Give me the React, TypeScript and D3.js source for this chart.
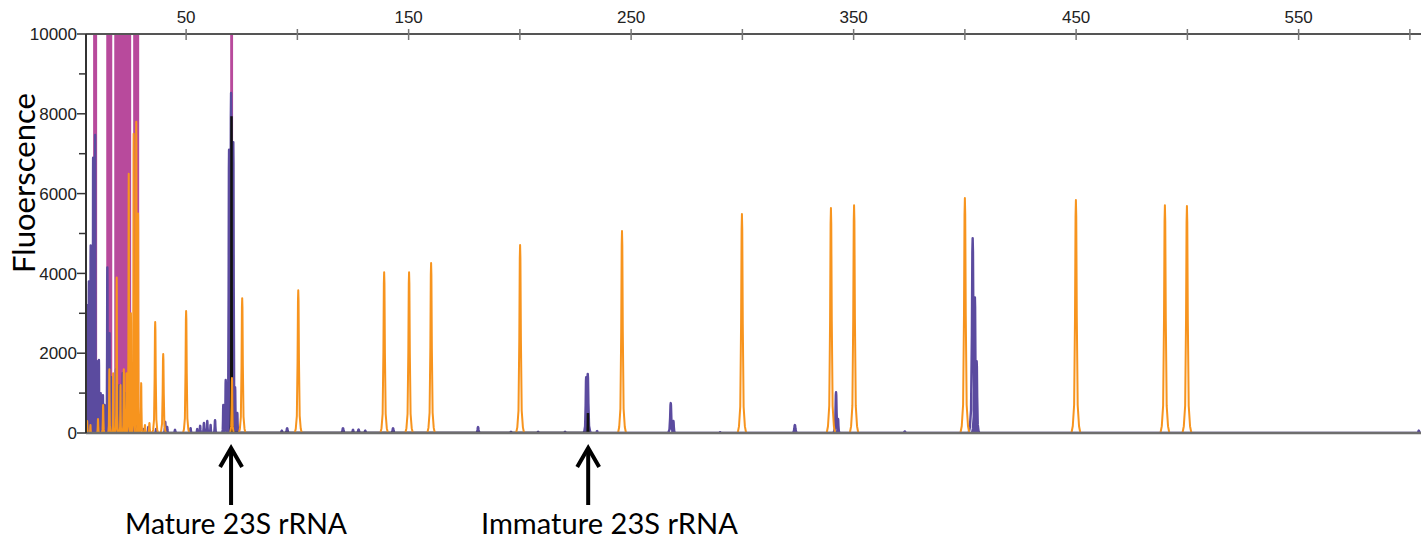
import React from "react";
import * as d3 from "d3";

// size standard (orange) peaks: [size, fluorescence, half base width]
const orangePeaks: [number, number, number][] = [
  [5.5, 300, 0.6], [7.0, 200, 0.5], [10.4, 350, 0.6], [12.7, 700, 0.7],
  [15.5, 1600, 0.6], [17.2, 1500, 0.5], [18.8, 3900, 0.6], [20.5, 1200, 0.5],
  [22.0, 1600, 0.6], [23.2, 1500, 0.5], [24.2, 6500, 0.6], [25.2, 3000, 0.5],
  [26.4, 7500, 0.6], [27.6, 7800, 0.7], [28.4, 5500, 0.6], [29.8, 1250, 0.7],
  [31.5, 200, 0.8], [33.5, 250, 0.8],
  [36.1, 2780, 1.3], [39.7, 1980, 1.3], [50.0, 3060, 1.4], [70.6, 1380, 0.9],
  [75.2, 3380, 1.5], [100.4, 3580, 1.6], [139.0, 4030, 1.7], [150.2, 4030, 1.7],
  [160.1, 4260, 1.7], [200.1, 4710, 1.8], [245.9, 5060, 1.8], [299.8, 5490, 1.9],
  [339.8, 5640, 1.9], [350.2, 5710, 1.9], [400.0, 5890, 2.0], [449.9, 5840, 2.0],
  [489.9, 5710, 2.0], [499.8, 5690, 2.0],
];

// sample (purple) peaks
const purplePeaks: [number, number, number][] = [
  [5.0, 1900, 0.5], [5.6, 3200, 0.5], [6.3, 3800, 0.5], [7.1, 4700, 0.6],
  [8.2, 6900, 0.4], [9.1, 7470, 0.6], [9.9, 1800, 0.5], [10.8, 1830, 0.5],
  [11.6, 1000, 0.4], [12.6, 950, 0.5], [13.3, 700, 0.4], [14.6, 4150, 0.6],
  [15.6, 2500, 0.4], [16.4, 1400, 0.5], [18.5, 1600, 0.5], [20.0, 1200, 0.5],
  [21.5, 1500, 0.5], [22.8, 1000, 0.5], [24.4, 1500, 0.6], [25.6, 900, 0.5],
  [27.0, 600, 0.5], [28.3, 300, 0.5], [31.0, 100, 0.6], [33.0, 150, 0.6],
  [36.5, 100, 0.6], [40.6, 280, 0.8], [41.5, 150, 0.6], [45.0, 80, 0.8],
  [52.0, 120, 0.8], [55.0, 100, 0.7], [56.3, 180, 0.7], [58.0, 250, 0.8],
  [59.5, 300, 0.7], [61.0, 200, 0.6], [63.0, 320, 0.8], [66.7, 700, 0.6],
  [67.8, 1330, 0.8], [69.3, 7100, 1.0], [70.2, 8520, 1.3], [71.2, 7290, 1.0],
  [72.0, 1150, 0.9], [73.0, 500, 0.7], [93.0, 60, 1.0], [95.4, 120, 1.2],
  [120.5, 120, 1.3], [125.0, 80, 1.0], [127.5, 90, 1.2], [130.5, 60, 1.0],
  [143.0, 120, 1.2], [181.2, 150, 1.2], [196.0, 30, 1.5], [208.2, 30, 1.0],
  [220.3, 30, 1.0], [229.8, 1400, 1.2], [230.5, 1480, 1.5], [234.7, 50, 0.8],
  [267.8, 750, 1.4], [269.0, 300, 1.0], [290.0, 20, 1.0], [323.6, 200, 1.4],
  [342.1, 1020, 1.3], [343.0, 350, 0.9], [373.0, 40, 1.5], [403.5, 4880, 1.8],
  [404.5, 3400, 1.3], [405.3, 1800, 1.2], [604.0, 60, 1.0],
];

// black channel peaks
const blackPeaks: [number, number, number][] = [
  [70.4, 7940, 0.35], [230.6, 500, 0.35],
];

// saturated magenta ranges (size units)
const magentaStart = [8.2, 14.1, 17.7, 26.2, 69.8];
const magentaEnd = [10.0, 16.8, 25.3, 28.9, 71.1];

const sizeTicks = [50, 100, 150, 200, 250, 300, 350, 400, 450, 500, 550, 600];
const yMajor = [0, 2000, 4000, 6000, 8000, 10000];
const yMinor = [1000, 3000, 5000, 7000, 9000];

const arrows = [
  { size: 70.2, label: "Mature 23S rRNA", tx: 125, tw: 222 },
  { size: 230.7, label: "Immature 23S rRNA", tx: 481, tw: 257 },
];

const W = 1421;
const H = 543;
const m = { left: 86, right: 1421, top: 34, bottom: 433 };

// peak outline template
const tOff = [-1, -0.7, -0.4, -0.2, -0.08, 0, 0.08, 0.2, 0.4, 0.7, 1];
const tRel = [0, 0.03, 0.12, 0.5, 0.93, 1, 0.93, 0.5, 0.12, 0.03, 0];

const trace = (peaks: [number, number, number][]) => {
  const pts: [number, number][] = [];
  [...peaks].sort((a, b) => a[0] - b[0]).forEach(([c, h, w]) => {
    tOff.forEach((o, i) => pts.push([c + o * w, h * tRel[i]]));
  });
  return pts;
};

export default function App() {
  const x = d3.scaleLinear().domain([5, 605]).range([m.left, m.right]);
  const y = d3.scaleLinear().domain([0, 10000]).range([m.bottom, m.top]);

  const line = d3
    .line<[number, number]>()
    .x((d) => x(d[0]))
    .y((d) => y(d[1]));

  const area = d3
    .area<number>()
    .x((d) => x(d))
    .y0(y(0))
    .y1(y(12000));

  const font = "'Liberation Sans', Arial, sans-serif";
  const labelFont = "Lato, 'Open Sans', sans-serif";

  return (
    <svg
      width={W}
      height={H}
      style={{ position: "absolute", left: 0, top: 0, background: "#fff" }}
    >
      <defs>
        <clipPath id="plot">
          <rect x={m.left} y={m.top} width={m.right - m.left} height={m.bottom - m.top + 1} />
        </clipPath>
      </defs>

      <g clipPath="url(#plot)">
        {magentaStart.map((s, i) => (
          <path key={i} d={area([s, magentaEnd[i]]) || ""} fill="#b84a9c" />
        ))}
        <path d={line(trace(purplePeaks)) || ""} fill="none" stroke="#5b4b9f" strokeWidth={2.4} strokeLinejoin="round" />
        <path d={line(trace(blackPeaks)) || ""} fill="none" stroke="#111" strokeWidth={2.4} />
        <path d={line(trace(orangePeaks)) || ""} fill="none" stroke="#f7941e" strokeWidth={2} strokeLinejoin="round" />
      </g>

      {/* bottom baseline */}
      <line x1={m.left} x2={m.right} y1={y(0)} y2={y(0)} stroke="#6e6e6e" strokeWidth={2.5} />

      {/* top size axis */}
      <line x1={m.left} x2={m.right} y1={m.top} y2={m.top} stroke="#555" strokeWidth={2} />
      {sizeTicks.map((t) => (
        <g key={t}>
          <line x1={x(t)} x2={x(t)} y1={m.top - 5} y2={m.top + 6} stroke="#777" strokeWidth={1.5} />
          {(t - 50) % 100 === 0 && (
            <text x={x(t)} y={23} textAnchor="middle" fontFamily={font} fontSize={17} fill="#222">
              {t}
            </text>
          )}
        </g>
      ))}

      {/* y axis */}
      <line x1={m.left} x2={m.left} y1={m.top} y2={m.bottom} stroke="#333" strokeWidth={2} />
      {yMajor.map((t) => (
        <g key={t}>
          <line x1={m.left - 9} x2={m.left} y1={y(t)} y2={y(t)} stroke="#333" strokeWidth={1.5} />
          <text x={m.left - 9} y={y(t)} dy="0.36em" textAnchor="end" fontFamily={font} fontSize={17} fill="#222">
            {t}
          </text>
        </g>
      ))}
      {yMinor.map((t) => (
        <line key={t} x1={m.left - 7} x2={m.left} y1={y(t)} y2={y(t)} stroke="#333" strokeWidth={1.5} />
      ))}

      <text
        transform="translate(35,183) rotate(-90)"
        textAnchor="middle"
        fontFamily={labelFont}
        fontSize={31}
        textLength={180}
        lengthAdjust="spacingAndGlyphs"
        fill="#000"
      >
        Fluoerscence
      </text>

      {/* annotations */}
      {arrows.map((a) => (
        <g key={a.label}>
          <line x1={x(a.size)} x2={x(a.size)} y1={449} y2={505} stroke="#000" strokeWidth={4} />
          <polyline
            points={`${x(a.size) - 11},467 ${x(a.size)},448 ${x(a.size) + 11},467`}
            fill="none"
            stroke="#000"
            strokeWidth={4}
          />
          <text
            x={a.tx}
            y={534}
            fontFamily={labelFont}
            fontSize={29}
            textLength={a.tw}
            lengthAdjust="spacingAndGlyphs"
            fill="#000"
          >
            {a.label}
          </text>
        </g>
      ))}
    </svg>
  );
}
